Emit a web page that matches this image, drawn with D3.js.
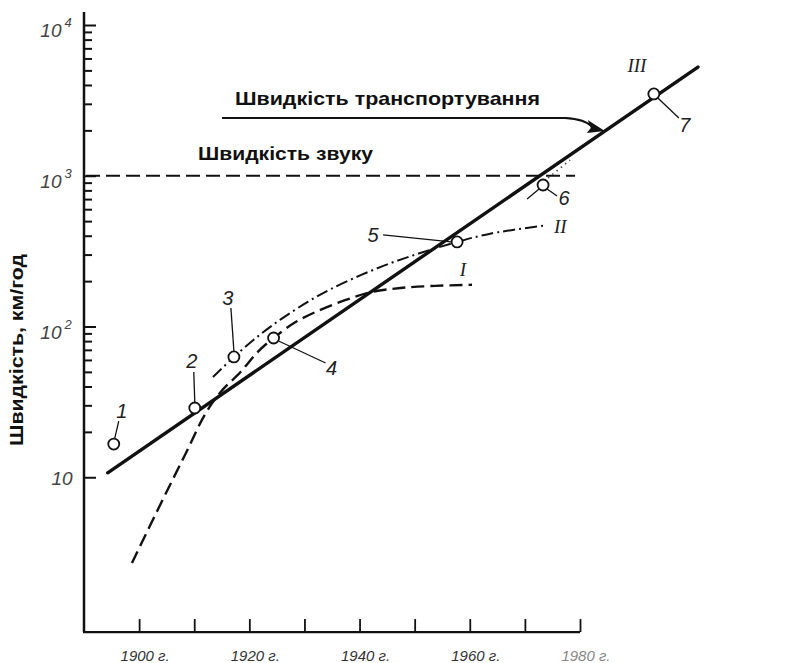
<!DOCTYPE html>
<html><head><meta charset="utf-8">
<script src="https://cdn.jsdelivr.net/npm/d3@7"></script>
<style>body{margin:0;background:#fff}svg{display:block}</style>
</head><body><svg id="c" width="791" height="663"></svg>
<script>
// ---------- data ----------
const xTickYears = [1900, 1910, 1920, 1930, 1940, 1950, 1960, 1970, 1980];
const xLabelYears = [1900, 1920, 1940, 1960, 1980];
const xLabels = ["1900 г.", "1920 г.", "1940 г.", "1960 г.", "1980 г."];
const yMajorValues = [10, 100, 1000, 10000];
const yMajorExponents = ["", "2", "3", "4"];
const yMinorValues = [20,30,40,50,60,70,80,90,200,300,400,500,600,700,800,900,2000,3000,4000,5000,6000,7000,8000,9000];
const yAxisLabel = "Швидкість, км/год";

const soundSpeed = 1000;
const soundLineEndYear = 1979.1;
const soundLabel = "Швидкість звуку";
const transportLabel = "Швидкість транспортування";

const trendYears = [1894.3, 2001.4];          // line III
const trendValues = [10.7, 5260];

const pointLabels = ["1", "2", "3", "4", "5", "6", "7"];
const pointYears  = [1895.4, 1910.1, 1917.2, 1924.4, 1957.7, 1973.3, 1993.4];
const pointValues = [16.6, 28.8, 62.8, 83.9, 364, 868, 3490];

const curveIYears  = [1898.7, 1903.9, 1908.5, 1912.1, 1914.8, 1918.4, 1921.5, 1924.4, 1928.4, 1932.9, 1937.5, 1942.0, 1947.4, 1953.7, 1960.4];
const curveIValues = [2.70, 6.65, 14.5, 26.7, 36.8, 49.9, 67.7, 83.9, 107, 129, 150, 169, 180, 186, 189];

const curveIIYears  = [1913.4, 1917.2, 1921.5, 1925.7, 1930.6, 1934.7, 1940.2, 1945.6, 1951.0, 1957.7, 1963.7, 1973.7];
const curveIIValues = [46.2, 62.8, 85.7, 111.5, 145.7, 176.5, 218.9, 263, 307, 364, 413, 468];

const dottedYears  = [1974.2, 1978.2];
const dottedValues = [966, 1272];

const curveNames = ["I", "II", "III"];
const arrowTipYear = 1984.5;

// ---------- layout ----------
const svg = d3.select("#c");
const x = d3.scaleLinear().domain([1890, 1980]).range([84, 580]);
const y = d3.scaleLog().domain([1, 10000]).range([628, 25]);
const yAxisBottom = 0.94, yAxisTop = 12200;
const ink = "#111";

const italicFont = "'Liberation Sans Narrow','Liberation Sans',Arial,sans-serif";
const boldFont = "'Liberation Sans',Arial,sans-serif";
const serifFont = "'Liberation Serif','DejaVu Serif',serif";

// axes lines
svg.append("line").attr("x1", x(1890)).attr("x2", x(1890))
  .attr("y1", y(yAxisTop)).attr("y2", y(yAxisBottom))
  .attr("stroke", ink).attr("stroke-width", 2.5);
svg.append("line").attr("x1", x(1890) - 1).attr("x2", x(1980))
  .attr("y1", y(yAxisBottom)).attr("y2", y(yAxisBottom))
  .attr("stroke", ink).attr("stroke-width", 2.2);

// y ticks (inward, right)
const gyMinor = svg.append("g").attr("transform", `translate(${x(1890)},0)`)
  .call(d3.axisRight(y).tickValues(yMinorValues).tickSize(8).tickFormat(""));
const gyMajor = svg.append("g").attr("transform", `translate(${x(1890)},0)`)
  .call(d3.axisRight(y).tickValues(yMajorValues).tickSize(12).tickFormat(""));
[gyMinor, gyMajor].forEach(g => {
  g.select(".domain").remove();
  g.selectAll(".tick line").attr("stroke", ink).attr("stroke-width", 2);
});

// y tick labels
const yl = svg.append("g");
yMajorValues.forEach((v, i) => {
  const t = yl.append("text").attr("x", i === 0 ? 62 : 56).attr("y", y(v) + (i === 0 ? 8 : 12))
    .attr("font-family", italicFont).attr("font-style", "italic")
    .attr("font-size", 19).attr("fill", "#444").attr("text-anchor", "middle");
  t.append("tspan").text("10");
  if (yMajorExponents[i]) {
    t.append("tspan").attr("dx", 3).attr("dy", -10).attr("font-size", 13).text(yMajorExponents[i]);
  }
});

// x ticks (upward)
const gx = svg.append("g").attr("transform", `translate(0,${y(yAxisBottom)})`)
  .call(d3.axisTop(x).tickValues(xTickYears).tickSize(13).tickFormat(""));
gx.select(".domain").remove();
gx.selectAll(".tick line").attr("stroke", ink).attr("stroke-width", 1.8);

// x labels
svg.append("g").selectAll("text").data(xLabelYears).join("text")
  .attr("x", d => x(d) + 6).attr("y", 661)
  .attr("text-anchor", "middle")
  .attr("font-family", italicFont).attr("font-style", "italic")
  .attr("font-size", 15).attr("fill", (d, i) => i === 4 ? "#888" : "#333")
  .text((d, i) => xLabels[i]);

// y axis title
svg.append("text").attr("transform", "translate(23,350) rotate(-90)")
  .attr("text-anchor", "middle").attr("font-family", boldFont)
  .attr("font-weight", "bold").attr("font-size", 19).attr("fill", ink)
  .attr("textLength", 192).attr("lengthAdjust", "spacingAndGlyphs")
  .text(yAxisLabel);

// speed of sound
svg.append("line").attr("x1", x(1890) + 2).attr("x2", x(soundLineEndYear))
  .attr("y1", y(soundSpeed)).attr("y2", y(soundSpeed))
  .attr("stroke", ink).attr("stroke-width", 1.8).attr("stroke-dasharray", "14,6");
svg.append("text").attr("x", 198).attr("y", 160)
  .attr("font-family", boldFont).attr("font-weight", "bold").attr("font-size", 18.5)
  .attr("textLength", 175).attr("lengthAdjust", "spacingAndGlyphs")
  .attr("fill", ink).text(soundLabel);

// line generator
const line = d3.line().x(d => x(d[0])).y(d => y(d[1])).curve(d3.curveCatmullRom.alpha(0.5));

// curve I
svg.append("path").datum(curveIYears.map((t, i) => [t, curveIValues[i]]))
  .attr("d", line).attr("fill", "none").attr("stroke", ink)
  .attr("stroke-width", 2.4).attr("stroke-dasharray", "13,6");
// curve II
svg.append("path").datum(curveIIYears.map((t, i) => [t, curveIIValues[i]]))
  .attr("d", line).attr("fill", "none").attr("stroke", ink)
  .attr("stroke-width", 2).attr("stroke-dasharray", "12,4,2,4");
// dotted near 6
svg.append("path").datum(dottedYears.map((t, i) => [t, dottedValues[i]]))
  .attr("d", d3.line().x(d => x(d[0])).y(d => y(d[1])))
  .attr("fill", "none").attr("stroke", "#444").attr("stroke-width", 1.5)
  .attr("stroke-dasharray", "1.5,4");
// line III
svg.append("path").datum(trendYears.map((t, i) => [t, trendValues[i]]))
  .attr("d", d3.line().x(d => x(d[0])).y(d => y(d[1])))
  .attr("fill", "none").attr("stroke", ink).attr("stroke-width", 3.4)
  .attr("stroke-linecap", "round");

// arrow to line III
const trendAt = t => trendValues[0] * Math.pow(trendValues[1] / trendValues[0],
  (t - trendYears[0]) / (trendYears[1] - trendYears[0]));
const tipX = x(arrowTipYear), tipY = y(trendAt(arrowTipYear));
svg.append("path")
  .attr("d", `M222,118 L565,118 Q585,119 ${tipX - 12},${tipY - 4}`)
  .attr("fill", "none").attr("stroke", ink).attr("stroke-width", 2);
svg.append("path")
  .attr("d", `M${tipX},${tipY} L${tipX - 17},${tipY - 11} L${tipX - 14},${tipY - 3} L${tipX - 18},${tipY + 2} Z`)
  .attr("fill", ink);
svg.append("text").attr("x", 235).attr("y", 105)
  .attr("font-family", boldFont).attr("font-weight", "bold").attr("font-size", 18.5)
  .attr("textLength", 305).attr("lengthAdjust", "spacingAndGlyphs")
  .attr("fill", ink).text(transportLabel);

// leaders and labels for points (pixel offsets from each point)
const leaderOffsets = [
  [[[1, -6], [5, -23]]],
  [[[0, -6], [-1, -36]]],
  [[[0, -6], [-3, -49]]],
  [[[5, 3], [52, 25]]],
  [[[-6, 0], [-74, -7]]],
  [[[-4, 4], [-16, 14]], [[4, 4], [14, 11]]],
  [[[4, 4], [25, 24]]]
];
const labelOffsets = [[8, -26], [-3, -40], [-6, -52], [58, 37], [-84, 0], [21, 20], [31, 38]];

const pts = pointYears.map((t, i) => ({ px: x(t), py: y(pointValues[i]), i }));
pts.forEach(p => {
  leaderOffsets[p.i].forEach(seg => {
    svg.append("line").attr("x1", p.px + seg[0][0]).attr("y1", p.py + seg[0][1])
      .attr("x2", p.px + seg[1][0]).attr("y2", p.py + seg[1][1])
      .attr("stroke", ink).attr("stroke-width", 1.3);
  });
  svg.append("text").attr("x", p.px + labelOffsets[p.i][0]).attr("y", p.py + labelOffsets[p.i][1])
    .attr("text-anchor", "middle").attr("font-family", italicFont)
    .attr("font-style", "italic").attr("font-size", 20).attr("fill", "#222")
    .text(pointLabels[p.i]);
});
svg.append("g").selectAll("circle").data(pts).join("circle")
  .attr("cx", d => d.px).attr("cy", d => d.py).attr("r", 5.5)
  .attr("fill", "#fff").attr("stroke", ink).attr("stroke-width", 1.8);

// curve names
const nameAnchors = [
  [curveIYears[curveIYears.length - 1], curveIValues[curveIValues.length - 1], -9, -9],
  [curveIIYears[curveIIYears.length - 1], curveIIValues[curveIIValues.length - 1], 15, 8],
  [trendYears[1], trendValues[1], -61, 5]
];
nameAnchors.forEach((a, i) => {
  svg.append("text").attr("x", x(a[0]) + a[2]).attr("y", y(a[1]) + a[3])
    .attr("text-anchor", "middle").attr("font-family", serifFont)
    .attr("font-style", "italic").attr("font-size", 19).attr("fill", "#222")
    .text(curveNames[i]);
});
</script></body></html>
